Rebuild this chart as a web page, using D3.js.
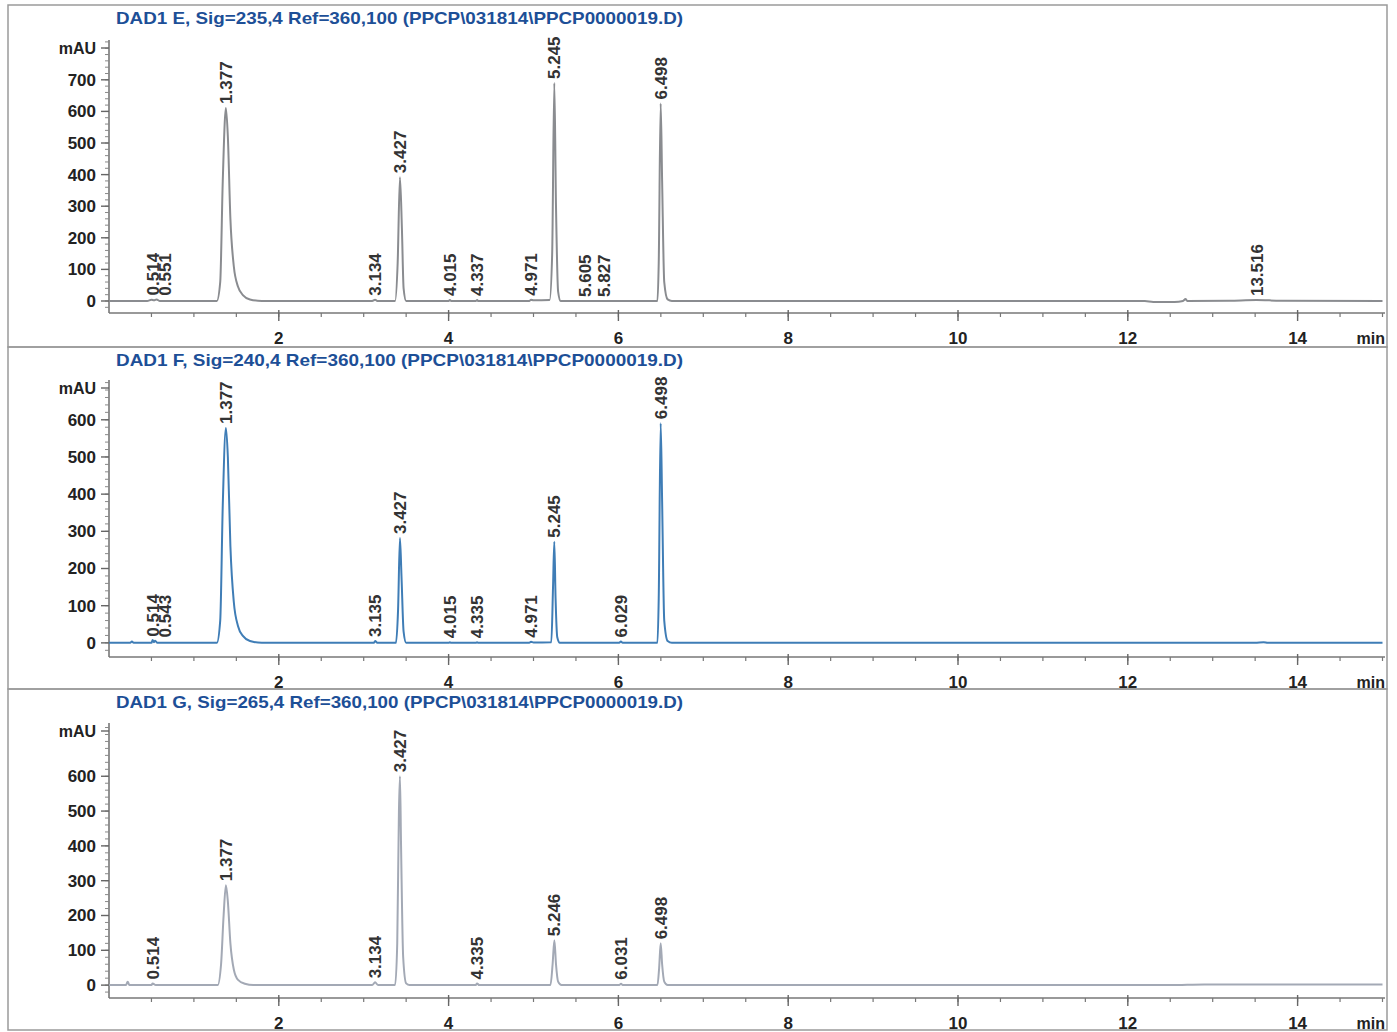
<!DOCTYPE html>
<html>
<head>
<meta charset="utf-8">
<script src="https://cdn.jsdelivr.net/npm/d3@7"></script>
<style>
  html, body { margin: 0; padding: 0; background: #fff; }
  svg { display: block; }
</style>
</head>
<body>
<script>
// ---------------- DATA ----------------
const titles = [
  "DAD1 E, Sig=235,4 Ref=360,100 (PPCP\\031814\\PPCP0000019.D)",
  "DAD1 F, Sig=240,4 Ref=360,100 (PPCP\\031814\\PPCP0000019.D)",
  "DAD1 G, Sig=265,4 Ref=360,100 (PPCP\\031814\\PPCP0000019.D)"
];
const timeTicks = [2, 4, 6, 8, 10, 12, 14];
const yTicksE = [0, 100, 200, 300, 400, 500, 600, 700];
const yTicksF = [0, 100, 200, 300, 400, 500, 600];
const yTicksG = [0, 100, 200, 300, 400, 500, 600];

// Trace E (235 nm): [time min, mAU]
const traceE = [
  [0,0],[0.45,0],[0.5,4],[0.53,2],[0.56,5],[0.6,0],[1.27,0],[1.31,60],[1.34,380],[1.377,611],
  [1.40,520],[1.43,260],[1.47,110],[1.52,45],[1.58,18],[1.66,5],[1.8,0],[3.1,0],[3.134,4],[3.16,0],
  [3.37,0],[3.40,120],[3.427,392],[3.45,230],[3.47,40],[3.50,0],[4.0,0],[4.015,3],[4.03,0],
  [4.32,0],[4.337,3],[4.35,0],[4.95,0],[4.971,4],[5.0,2],[5.19,3],[5.22,150],[5.245,690],
  [5.265,300],[5.29,30],[5.32,0],[6.46,0],[6.475,120],[6.498,625],[6.515,380],[6.54,60],[6.58,5],
  [6.63,0],[12.2,0],[12.3,-3],[12.55,-3],[12.65,0],[12.68,6],[12.70,0],[13.2,1],[13.516,3],
  [13.8,1],[15,0]
];
// Trace F (240 nm)
const traceF = [
  [0,0],[0.25,0],[0.27,4],[0.29,0],[0.5,0],[0.514,8],[0.53,2],[0.543,6],[0.57,0],[1.27,0],
  [1.31,60],[1.34,370],[1.377,578],[1.40,500],[1.43,260],[1.47,110],[1.52,45],[1.58,18],[1.66,5],
  [1.8,0],[3.12,0],[3.135,5],[3.16,0],[3.38,0],[3.405,90],[3.427,282],[3.445,180],[3.47,30],
  [3.50,0],[4.0,0],[4.015,2],[4.03,0],[4.32,0],[4.335,2],[4.35,0],[4.95,0],[4.971,3],[5.0,1],
  [5.21,2],[5.23,150],[5.245,272],[5.26,120],[5.28,15],[5.31,0],[6.01,0],[6.029,4],[6.05,0],
  [6.46,0],[6.475,120],[6.498,591],[6.515,380],[6.54,60],[6.58,5],[6.63,0],[13.5,0],[13.6,2],
  [13.65,0],[15,0]
];
// Trace G (265 nm)
const traceG = [
  [0,0],[0.2,0],[0.22,10],[0.24,0],[0.5,0],[0.514,5],[0.55,0],[1.28,0],[1.32,60],[1.35,200],
  [1.377,287],[1.40,240],[1.43,120],[1.47,45],[1.52,15],[1.6,4],[1.7,0],[3.1,0],[3.134,8],
  [3.17,0],[3.37,0],[3.395,120],[3.415,500],[3.427,600],[3.44,400],[3.465,80],[3.50,5],[3.54,0],
  [4.32,0],[4.335,5],[4.36,0],[5.2,0],[5.225,60],[5.246,129],[5.265,60],[5.29,10],[5.33,0],
  [6.01,0],[6.031,4],[6.05,0],[6.46,0],[6.48,50],[6.498,120],[6.515,60],[6.54,10],[6.58,0],
  [12.1,0],[12.5,0],[12.9,2],[15,2]
];

// Peak labels (retention times) and apex heights (mAU)
const peaksE = ["0.514","0.551","1.377","3.134","3.427","4.015","4.337","4.971","5.245","5.605","5.827","6.498","13.516"];
const heightsE = [5, 4, 611, 4, 392, 3, 3, 4, 690, 0, 0, 625, 3];
const peaksF = ["0.514","0.543","1.377","3.135","3.427","4.015","4.335","4.971","5.245","6.029","6.498"];
const heightsF = [6, 4, 578, 5, 282, 2, 2, 3, 272, 4, 591];
const peaksG = ["0.514","1.377","3.134","3.427","4.335","5.246","6.031","6.498"];
const heightsG = [5, 287, 8, 600, 5, 129, 4, 120];

// ---------------- LAYOUT ----------------
const W = 1397, H = 1032;
const svg = d3.select("body").append("svg").attr("width", W).attr("height", H);

const x = d3.scaleLinear().domain([0, 15]).range([109, 1382.5]);

const panels = [
  { title: titles[0], trace: traceE, peaks: peaksE, heights: heightsE, yTicks: yTicksE,
    dom: [-38, 826], rng: [313, 40], box: [5, 347], titleY: 23.5, color: "#8a8c90" },
  { title: titles[1], trace: traceF, peaks: peaksF, heights: heightsF, yTicks: yTicksF,
    dom: [-38, 707], rng: [657, 380], box: [347, 689], titleY: 366, color: "#3f7db6" },
  { title: titles[2], trace: traceG, peaks: peaksG, heights: heightsG, yTicks: yTicksG,
    dom: [-37, 753], rng: [998, 723], box: [689, 1030], titleY: 707.5, color: "#a3a9b5" }
];

const font = "'Liberation Sans', Arial, Helvetica, sans-serif";

panels.forEach((p, i) => {
  const g = svg.append("g");
  const y = d3.scaleLinear().domain(p.dom).range(p.rng);

  // panel box
  g.append("rect")
    .attr("x", 8).attr("y", p.box[0])
    .attr("width", 1379).attr("height", p.box[1] - p.box[0])
    .attr("fill", "none").attr("stroke", "#9a9a9a").attr("stroke-width", 1.5);

  // title
  g.append("text")
    .attr("x", 116).attr("y", p.titleY)
    .attr("font-family", font).attr("font-size", 17).attr("font-weight", "bold")
    .attr("fill", "#1d4f97")
    .attr("textLength", 567).attr("lengthAdjust", "spacingAndGlyphs")
    .text(p.title);

  const axisY = p.rng[0];

  // x axis
  const xMinor = d3.range(0.5, 15.01, 0.5);
  const xAx = g.append("g").attr("transform", `translate(0,${axisY})`);
  xAx.append("line").attr("x1", 109).attr("x2", 1385).attr("y1", 0).attr("y2", 0)
    .attr("stroke", "#777").attr("stroke-width", 1.6);
  xAx.selectAll("line.minor").data(xMinor).join("line").attr("class", "minor")
    .attr("x1", d => x(d)).attr("x2", d => x(d)).attr("y1", 0).attr("y2", 4)
    .attr("stroke", "#777").attr("stroke-width", 1.2);
  xAx.selectAll("line.major").data(timeTicks).join("line").attr("class", "major")
    .attr("x1", d => x(d)).attr("x2", d => x(d)).attr("y1", -3).attr("y2", 8)
    .attr("stroke", "#666").attr("stroke-width", 1.4);
  xAx.selectAll("text.tl").data(timeTicks).join("text").attr("class", "tl")
    .attr("x", d => x(d)).attr("y", 31)
    .attr("text-anchor", "middle")
    .attr("font-family", font).attr("font-size", 17).attr("font-weight", "bold")
    .attr("fill", "#222").text(d => d);
  xAx.append("text").attr("x", 1385).attr("y", 31).attr("text-anchor", "end")
    .attr("font-family", font).attr("font-size", 16).attr("font-weight", "bold")
    .attr("fill", "#222").text("min");

  // y axis
  const yAx = g.append("g");
  yAx.append("line").attr("x1", 109).attr("x2", 109).attr("y1", p.rng[1]).attr("y2", axisY)
    .attr("stroke", "#777").attr("stroke-width", 1.6);
  const yMinor = d3.range(-20, p.dom[1], 20);
  yAx.selectAll("line.minor").data(yMinor).join("line").attr("class", "minor")
    .attr("x1", 105).attr("x2", 109).attr("y1", d => y(d)).attr("y2", d => y(d))
    .attr("stroke", "#888").attr("stroke-width", 1);
  yAx.selectAll("line.major").data(p.yTicks).join("line").attr("class", "major")
    .attr("x1", 101).attr("x2", 109).attr("y1", d => y(d)).attr("y2", d => y(d))
    .attr("stroke", "#666").attr("stroke-width", 1.4);
  yAx.selectAll("text.tl").data(p.yTicks).join("text").attr("class", "tl")
    .attr("x", 96).attr("y", d => y(d)).attr("dy", "0.35em")
    .attr("text-anchor", "end")
    .attr("font-family", font).attr("font-size", 17).attr("font-weight", "bold")
    .attr("fill", "#222").text(d => d);
  yAx.append("line").attr("x1", 101).attr("x2", 109).attr("y1", p.rng[1] + 8).attr("y2", p.rng[1] + 8)
    .attr("stroke", "#666").attr("stroke-width", 1.4);
  yAx.append("text").attr("x", 96).attr("y", p.rng[1] + 8).attr("dy", "0.35em")
    .attr("text-anchor", "end")
    .attr("font-family", font).attr("font-size", 16).attr("font-weight", "bold")
    .attr("fill", "#222").text("mAU");

  // trace
  const line = d3.line().x(d => x(d[0])).y(d => y(d[1])).curve(d3.curveMonotoneX);
  g.append("path").datum(p.trace)
    .attr("d", line).attr("fill", "none")
    .attr("stroke", p.color).attr("stroke-width", 2).attr("stroke-linejoin", "round");

  // peak labels with simple collision offset
  let lastX = -1e9;
  const lx = p.peaks.map(d => {
    let v = x(+d);
    if (v - lastX < 12) v = lastX + 12;
    lastX = v;
    return v;
  });
  g.selectAll("text.pk").data(p.peaks).join("text").attr("class", "pk")
    .attr("transform", (d, j) => `translate(${lx[j] + 6},${y(p.heights[j]) - 4}) rotate(-90)`)
    .attr("font-family", font).attr("font-size", 17).attr("font-weight", "bold")
    .attr("fill", "#333").text(d => d);
});
</script>
</body>
</html>
